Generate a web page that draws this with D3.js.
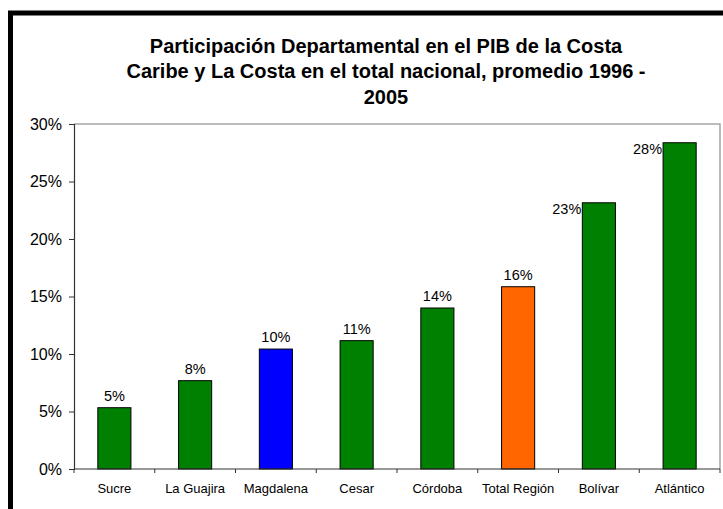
<!DOCTYPE html>
<html><head><meta charset="utf-8">
<script src="https://cdn.jsdelivr.net/npm/d3@7"></script>
<style>body{margin:0;background:#fff}svg{display:block;font-family:"Liberation Sans",Arial,sans-serif}</style>
</head><body>
<script>
const titleLines = ["Participación Departamental en el PIB de la Costa","Caribe y La Costa en el total nacional, promedio 1996 -","2005"];
const categories = ["Sucre","La Guajira","Magdalena","Cesar","Córdoba","Total Región","Bolívar","Atlántico"];
const values = [0.0533,0.0768,0.1043,0.1116,0.140,0.1585,0.2315,0.2837];
const labels = ["5%","8%","10%","11%","14%","16%","23%","28%"];
const barColors = ["#008000","#008000","#0000FF","#008000","#008000","#FF6600","#008000","#008000"];
const yTicks = [0,0.05,0.10,0.15,0.20,0.25,0.30];

const W=723,H=509;
const svg=d3.select("body").append("svg").attr("width",W).attr("height",H);
svg.append("rect").attr("x",10.5).attr("y",13).attr("width",800).attr("height",600)
  .attr("fill","#fff").attr("stroke","#000").attr("stroke-width",5);

const m={l:74,r:720,t:124,b:469};
const x=d3.scaleBand().domain(categories).range([m.l,m.r]).paddingInner(0.59).paddingOuter(0.295);
const xb=d3.scaleBand().domain(categories).range([m.l,m.r]);
const y=d3.scaleLinear().domain([0,0.30]).range([m.b,m.t]);

svg.append("g").attr("font-weight","bold").attr("font-size",20).attr("text-anchor","middle")
  .selectAll("text").data(titleLines).join("text")
  .attr("x",386).attr("y",(d,i)=>52.5+i*25.5).text(d=>d);

// plot border top/right
svg.append("path").attr("d",`M${m.l},${m.t}H${m.r}V${m.b}`).attr("fill","none").attr("stroke","#a6a6a6").attr("stroke-width",1.5);

svg.append("g").selectAll("rect").data(categories).join("rect")
  .attr("x",d=>x(d)).attr("width",x.bandwidth())
  .attr("y",(d,i)=>y(values[i])).attr("height",(d,i)=>m.b-y(values[i]))
  .attr("fill",(d,i)=>barColors[i]).attr("stroke","#000").attr("stroke-width",1);

// y axis
const ya=svg.append("g").attr("transform",`translate(${m.l},0)`)
  .call(d3.axisLeft(y).tickValues(yTicks).tickFormat(d3.format(".0%")).tickSize(5).tickPadding(7));
ya.select(".domain").attr("stroke","#333").attr("stroke-width",1.2);
ya.selectAll(".tick line").attr("stroke","#333");
ya.selectAll("text").attr("font-size",16).attr("font-family","'Liberation Sans',Arial,sans-serif").attr("fill","#000");

// x axis
const xa=svg.append("g").attr("transform",`translate(0,${m.b})`);
xa.append("line").attr("x1",m.l).attr("x2",m.r).attr("stroke","#333").attr("stroke-width",1.2);
const bounds=categories.map(c=>xb(c)).concat([m.r]);
xa.selectAll(".tk").data(bounds).join("line").attr("class","tk")
  .attr("x1",d=>d).attr("x2",d=>d).attr("y1",0).attr("y2",4).attr("stroke","#333");
xa.selectAll("text").data(categories).join("text")
  .attr("x",d=>xb(d)+xb.bandwidth()/2).attr("y",24).attr("text-anchor","middle")
  .attr("font-size",13).text(d=>d);

// value labels
svg.append("g").attr("font-size",14.5).selectAll("text").data(categories).join("text")
  .attr("x",(d,i)=>values[i]>0.2 ? x(d)-1 : x(d)+x.bandwidth()/2)
  .attr("y",(d,i)=>values[i]>0.2 ? y(values[i])+11 : y(values[i])-7)
  .attr("text-anchor",(d,i)=>values[i]>0.2?"end":"middle")
  .text((d,i)=>labels[i]);
</script>
</body></html>
